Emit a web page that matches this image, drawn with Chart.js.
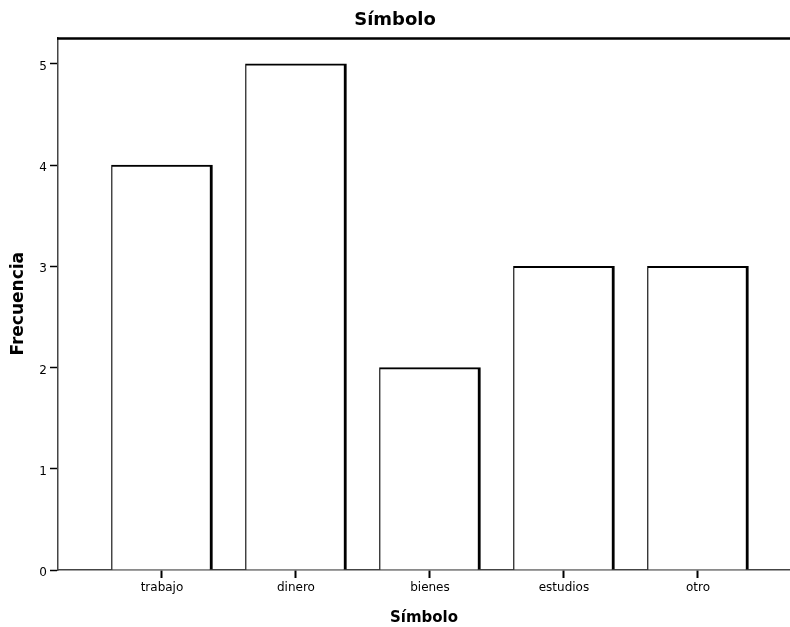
<!DOCTYPE html>
<html>
<head>
<meta charset="utf-8">
<title>Símbolo</title>
<script src="https://cdn.jsdelivr.net/npm/chart.js@4.4.1/dist/chart.umd.min.js"></script>
<style>
  html, body { margin: 0; padding: 0; background: #fff; }
  #wrap { width: 790px; height: 627px; position: relative; }
</style>
</head>
<body>
<div id="wrap"><canvas id="chart"></canvas></div>
<script>
    // data
    const categorias = ['trabajo', 'dinero', 'bienes', 'estudios', 'otro'];
    const frecuencias = [4, 5, 2, 3, 3];
    const yTicks = [0, 1, 2, 3, 4, 5];

    const FONT = "'DejaVu Sans', sans-serif";

    // thick frame line along the top of the plot
    const topLine = {
        id: 'topLine',
        afterDraw(chart) {
            const { ctx, chartArea } = chart;
            ctx.save();
            ctx.strokeStyle = '#000';
            ctx.lineWidth = 2.5;
            ctx.beginPath();
            ctx.moveTo(chartArea.left - 1, chartArea.top + 1);
            ctx.lineTo(chartArea.right, chartArea.top + 1);
            ctx.stroke();
            ctx.restore();
        }
    };

    const ctx = document.getElementById('chart').getContext('2d');
    new Chart(ctx, {
        type: 'bar',
        data: {
            datasets: [{
                label: 'Frecuencia',
                data: categorias.map((c, i) => ({ x: i, y: frecuencias[i] })),
                backgroundColor: '#fff',
                borderColor: '#000',
                borderWidth: { top: 2, right: 3, left: 1.2, bottom: 0 },
                borderSkipped: 'start',
                barThickness: 101
            }]
        },
        options: {
            responsive: true,
            maintainAspectRatio: false,
            animation: false,
            layout: { padding: 0 },
            plugins: {
                legend: { display: false },
                tooltip: { enabled: false },
                title: {
                    display: true,
                    text: 'Símbolo',
                    color: '#000',
                    font: { family: FONT, size: 18, weight: 'bold' },
                    padding: { top: 10, bottom: 6 }
                }
            },
            scales: {
                x: {
                    type: 'linear',
                    min: -0.776,
                    max: 4.687,
                    offset: false,
                    afterFit(scale) { scale.height = 57; },
                    afterBuildTicks(scale) {
                        scale.ticks = categorias.map((c, i) => ({ value: i }));
                    },
                    ticks: {
                        color: '#000',
                        font: { family: FONT, size: 12 },
                        padding: 3,
                        maxRotation: 0,
                        autoSkip: false,
                        callback: (v) => categorias[v]
                    },
                    grid: {
                        display: true,
                        offset: false,
                        drawOnChartArea: false,
                        drawTicks: true,
                        tickLength: 8,
                        tickColor: '#000',
                        tickWidth: 2
                    },
                    border: { display: true, color: '#444', width: 1.5 },
                    title: {
                        display: true,
                        text: 'Símbolo',
                        color: '#000',
                        font: { family: FONT, size: 15, weight: 'bold' },
                        padding: { top: 0, bottom: 0 }
                    }
                },
                y: {
                    min: 0,
                    max: 5.26,
                    afterFit(scale) { scale.width = 58; },
                    afterBuildTicks(scale) {
                        scale.ticks = yTicks.map(v => ({ value: v }));
                    },
                    ticks: {
                        color: '#000',
                        font: { family: FONT, size: 12 },
                        padding: 3,
                        labelOffset: 3
                    },
                    grid: {
                        display: true,
                        drawOnChartArea: false,
                        drawTicks: true,
                        tickLength: 8,
                        tickColor: '#000',
                        tickWidth: 1.5
                    },
                    border: { display: true, color: '#444', width: 1.5 },
                    title: {
                        display: true,
                        text: 'Frecuencia',
                        color: '#000',
                        font: { family: FONT, size: 17, weight: 'bold' },
                        padding: { top: 8, bottom: 0 }
                    }
                }
            }
        },
        plugins: [topLine]
    });
</script>
</body>
</html>
